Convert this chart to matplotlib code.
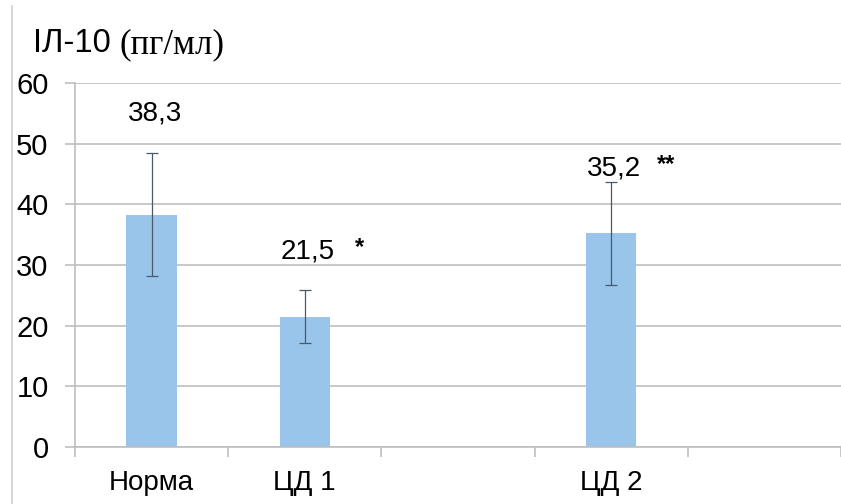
import matplotlib
matplotlib.use('Agg')
import matplotlib.pyplot as plt
from matplotlib.lines import Line2D
import numpy as np

# IL-10 levels per group (pg/ml), empty slots are left between groups
categories = ['Норма', 'ЦД 1', '', 'ЦД 2', '']
values = [38.3, 21.5, None, 35.2, None]
errors = [10.1, 4.3, None, 8.5, None]
value_labels = ['38,3', '21,5', '', '35,2', '']
marks = ['', '*', '', '**', '']
yticks = [0, 10, 20, 30, 40, 50, 60]

BAR = '#9AC5EA'
GRID = '#BFBFBF'

plt.rcParams['font.family'] = ['Liberation Sans', 'DejaVu Sans']

fig = plt.figure(figsize=(8.41, 5.04), dpi=100)
ax = fig.add_axes([75 / 841, 1 - 447 / 504, 1 - 75 / 841, (447 - 83) / 504])

x = np.arange(len(categories))
idx = [i for i, v in enumerate(values) if v is not None]
ax.bar([x[i] for i in idx], [values[i] for i in idx], width=0.33,
       color=BAR, zorder=2)
ax.errorbar([x[i] for i in idx], [values[i] for i in idx],
            yerr=[errors[i] for i in idx], fmt='none', ecolor='#4a5a6a',
            elinewidth=0.9, capsize=4, capthick=0.9, zorder=3)

ax.set_xlim(-0.5, len(categories) - 0.5)
ax.set_ylim(0, 60)
ax.set_yticks(yticks)
ax.set_yticklabels([str(t) for t in yticks], fontsize=21)
ax.yaxis.grid(True, color=GRID, linewidth=1.2, zorder=0)
ax.set_axisbelow(True)

# category names centred, separator ticks between categories
ax.set_xticks(x)
ax.set_xticklabels(categories, fontsize=20)
ax.tick_params(axis='x', which='major', length=0, pad=16.5)
ax.set_xticks(np.arange(-0.5, len(categories)), minor=True)
ax.tick_params(axis='x', which='minor', length=7, color=GRID, width=1.2)
ax.tick_params(axis='y', length=7, color=GRID, width=1.2, pad=12)

for s in ['top', 'right']:
    ax.spines[s].set_visible(False)
ax.spines['left'].set_color(GRID)
ax.spines['left'].set_linewidth(1.2)
ax.spines['bottom'].set_color(GRID)
ax.spines['bottom'].set_linewidth(1.2)

# value labels above bars with significance marks
label_y = {0: 55.0, 1: 32.2, 3: 45.9}
for i in idx:
    ax.text(x[i] + 0.02, label_y[i], value_labels[i], fontsize=20,
            ha='center', va='center')
    if marks[i]:
        ax.text(x[i] + 0.36, label_y[i] + 0.6, marks[i], fontsize=17,
                ha='center', va='center', fontweight='bold')

# axis title: sans part and serif unit
t1 = fig.text(33 / 841, 1 - 44 / 504, 'ІЛ-10 ', fontsize=23.5, va='center',
              ha='left')
fig.canvas.draw()
bb = t1.get_window_extent()
fig.text(bb.x1 / 841, 1 - 45 / 504, '(пг/мл)', fontsize=25, va='center',
         ha='left', family=['Liberation Serif', 'DejaVu Serif'])

# left frame line
fig.add_artist(Line2D([12 / 841, 12 / 841], [0, 1 - 6 / 504],
                      transform=fig.transFigure, color='#D0D0D0', lw=1.2))

fig.savefig('out.png', dpi=100)
